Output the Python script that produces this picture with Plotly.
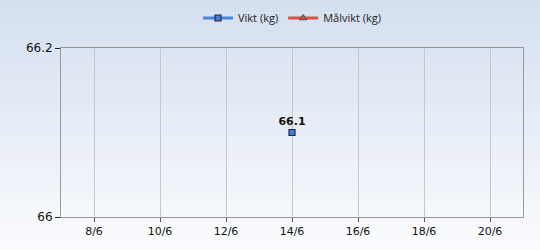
import plotly.graph_objects as go

dates = ["2024-06-14"]
weights = [66.1]
target_dates = []
target_weights = []

fig = go.Figure()
fig.add_trace(go.Scatter(
    x=dates, y=weights, mode="lines+markers+text", name="Vikt (kg)",
    text=[f"{w:g}" for w in weights], textposition="top center",
    textfont=dict(family="DejaVu Sans", size=11, color="#111111"),
    texttemplate="<b>%{text}</b>",
    line=dict(color="#4a86d8", width=3),
    marker=dict(symbol="square", size=6, color="#3f7fd6", line=dict(color="#1a2a48", width=1.2)),
))
fig.add_trace(go.Scatter(
    x=target_dates if target_dates else [None], y=target_weights if target_weights else [None],
    mode="lines+markers", name="Målvikt (kg)",
    line=dict(color="#d9534a", width=3),
    marker=dict(symbol="triangle-up", size=7, color="#c94a42", line=dict(color="#555555", width=1)),
))

# background gradient (top light blue -> bottom near white)
n = 40
top = (212, 223, 240)
bot = (250, 251, 253)
y0p, y1p = -33 / 169, 1 + 48 / 169
for i in range(n):
    t = i / (n - 1)
    c = tuple(int(round(bot[k] + (top[k] - bot[k]) * t)) for k in range(3))
    ya = y0p + (y1p - y0p) * i / n
    yb = y0p + (y1p - y0p) * (i + 1) / n
    fig.add_shape(type="rect", xref="paper", yref="paper", x0=-0.2, x1=1.2, y0=ya, y1=yb + 0.002,
                  fillcolor="rgb(%d,%d,%d)" % c, line=dict(width=0), layer="below")

fig.update_layout(
    width=540, height=250,
    margin=dict(l=61, r=17, t=48, b=33, autoexpand=False),
    paper_bgcolor="#ffffff", plot_bgcolor="rgba(0,0,0,0)",
    font=dict(family="DejaVu Sans", size=11, color="#111111"),
    showlegend=True,
    legend=dict(orientation="h", x=0.5, xanchor="center", y=1 - 18 / 250, yref="container", yanchor="middle",
                font=dict(family="Open Sans", size=11, color="#222222"), bgcolor="rgba(0,0,0,0)",
                itemwidth=30, tracegroupgap=0),
)
fig.update_xaxes(
    type="date", range=["2024-06-07", "2024-06-21"], tick0="2024-06-08", dtick=2 * 86400000,
    tickformat="%-d/%-m", showgrid=True, gridcolor="#c4c8cc", gridwidth=1,
    showline=True, linecolor="#9a9a9a", linewidth=1, mirror=True,
    ticks="outside", ticklen=4, tickcolor="#555555", zeroline=False,
)
fig.update_yaxes(
    range=[66, 66.2], tickvals=[66, 66.2], ticktext=["66", "66.2"], showgrid=False,
    showline=True, linecolor="#9a9a9a", linewidth=1, mirror=True,
    ticks="outside", ticklen=5, tickcolor="#222222", zeroline=False,
    tickfont=dict(size=12),
)
fig.write_html("out.html")
